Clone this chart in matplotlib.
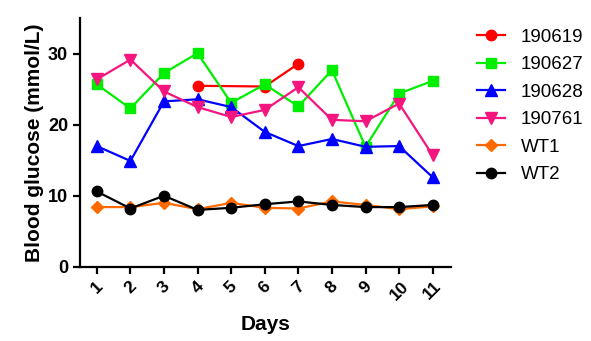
import matplotlib
matplotlib.use("Agg")
import matplotlib.pyplot as plt

plt.rcParams['font.family'] = ['Liberation Sans', 'DejaVu Sans']

days = [1, 2, 3, 4, 5, 6, 7, 8, 9, 10, 11]

# mouse 190619 was only measured on days 4, 6 and 7
days_190619 = [4, 6, 7]
glu_190619 = [25.5, 25.4, 28.6]
glu_190627 = [25.7, 22.3, 27.3, 30.1, 23.1, 25.7, 22.6, 27.7, 16.9, 24.4, 26.2]
glu_190628 = [17.0, 14.9, 23.3, 23.6, 22.5, 19.0, 17.0, 18.0, 16.9, 17.0, 12.6]
glu_190761 = [26.4, 29.2, 24.7, 22.5, 21.1, 22.1, 25.3, 20.7, 20.5, 23.0, 15.7]
glu_wt1 = [8.4, 8.4, 9.0, 8.1, 9.0, 8.3, 8.2, 9.2, 8.7, 8.1, 8.5]
glu_wt2 = [10.6, 8.2, 10.0, 8.0, 8.3, 8.8, 9.2, 8.7, 8.4, 8.4, 8.7]

fig = plt.figure(figsize=(5.91, 3.41), dpi=100)
ax = fig.add_axes([0.1354, 0.218, 0.628, 0.728])

lw = 1.6
ax.plot(days_190619, glu_190619, color='#ff0000', marker='o', ms=7.5, lw=lw, label='190619')
ax.plot(days, glu_190627, color='#00ee00', marker='s', ms=7.5, lw=lw, label='190627')
ax.plot(days, glu_190628, color='#0000ff', marker='^', ms=8, lw=lw, label='190628')
ax.plot(days, glu_190761, color='#f5157f', marker='v', ms=8, lw=lw, label='190761')
ax.plot(days, glu_wt1, color='#ff6a00', marker='D', ms=6.5, lw=lw, label='WT1')
ax.plot(days, glu_wt2, color='#000000', marker='o', ms=7.5, lw=lw, label='WT2')

ax.set_xlim(0.5, 11.55)
ax.set_ylim(0, 35)
ax.set_yticks([0, 10, 20, 30])
ax.set_xticks(days)
ax.set_xticklabels([str(d) for d in days], rotation=45, ha='center', fontsize=12.5, fontweight='bold')
for lab in ax.get_yticklabels():
    lab.set_fontsize(13)
    lab.set_fontweight('bold')

for side in ['top', 'right']:
    ax.spines[side].set_visible(False)
for side in ['left', 'bottom']:
    ax.spines[side].set_linewidth(1.6)
ax.tick_params(width=1.6, length=5, direction='out')

ax.set_xlabel('Days', fontsize=15, fontweight='bold', labelpad=9)
ax.set_ylabel('Blood glucose (mmol/L)', fontsize=15, fontweight='bold', labelpad=3)

fig.legend(loc='upper left', bbox_to_anchor=(0.778, 0.965), frameon=False,
           fontsize=13.5, handlelength=1.5, labelspacing=0.55, handletextpad=0.85)

fig.savefig('out.png', dpi=100)
